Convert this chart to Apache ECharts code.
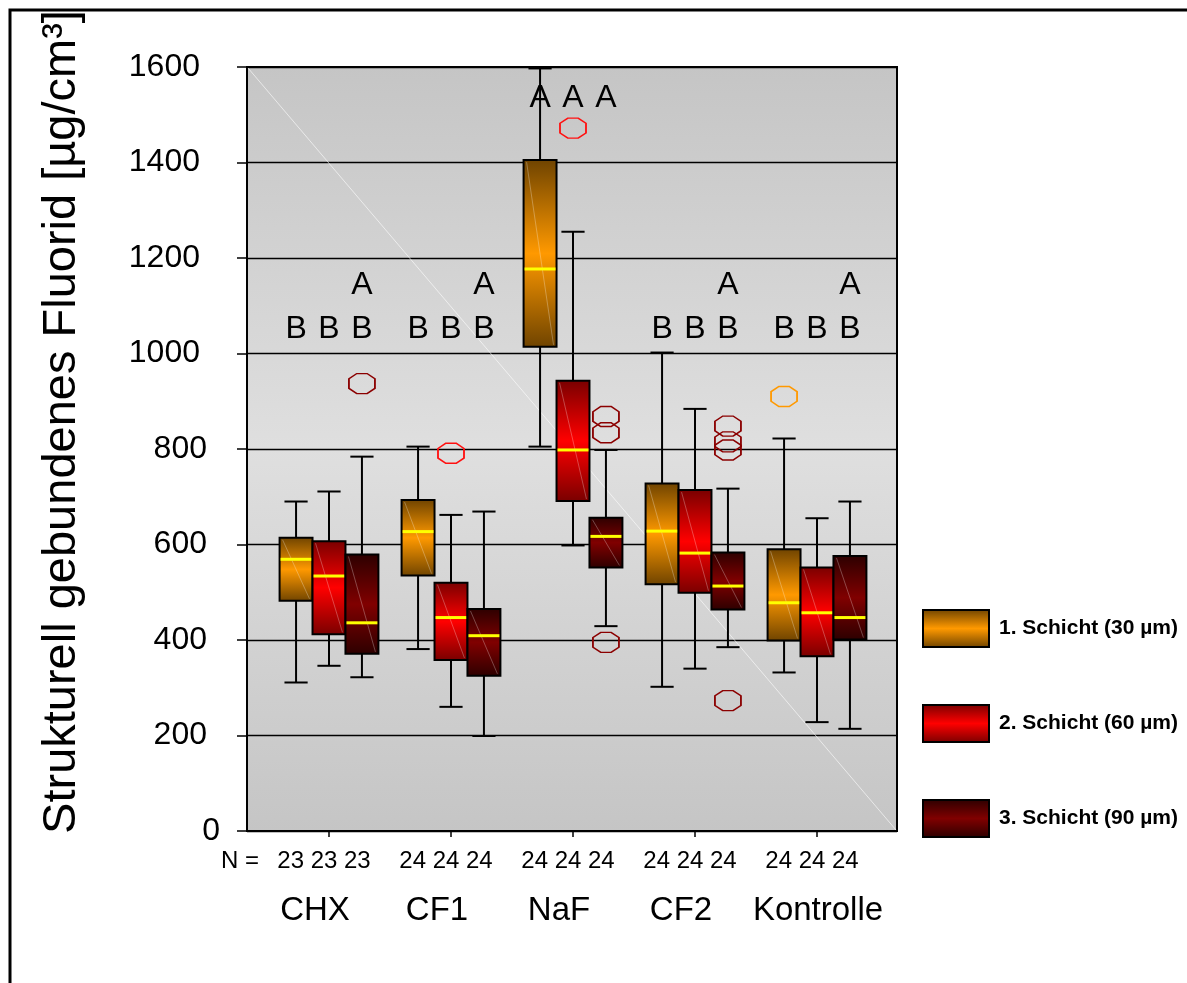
<!DOCTYPE html>
<html>
<head>
<meta charset="utf-8">
<title>Strukturell gebundenes Fluorid</title>
<script src="https://cdn.jsdelivr.net/npm/echarts@6/dist/echarts.min.js"></script>
<style>
  html, body { margin: 0; padding: 0; background: #fff; }
  #chart { width: 1187px; height: 983px; }
</style>
</head>
<body>
<div id="chart"></div>
<script>
// Groups and layers
const categories = ['CHX', 'CF1', 'NaF', 'CF2', 'Kontrolle'];
const layers = ['1. Schicht (30 µm)', '2. Schicht (60 µm)', '3. Schicht (90 µm)'];
const nCounts = [[23, 23, 23], [24, 24, 24], [24, 24, 24], [24, 24, 24], [24, 24, 24]];
const yTicks = [0, 200, 400, 600, 800, 1000, 1200, 1400, 1600];

// Box statistics per group: [min, Q1, median, Q3, max]
const layer1Stats = [
  [311, 482, 569, 614, 690],
  [381, 535, 627, 693, 805],
  [805, 1014, 1177, 1405, 1597],
  [302, 517, 628, 728, 1002],
  [332, 399, 478, 590, 822]
];
const layer2Stats = [
  [346, 412, 534, 607, 711],
  [260, 358, 447, 520, 662],
  [598, 691, 798, 943, 1255],
  [340, 499, 582, 714, 884],
  [228, 366, 457, 552, 655]
];
const layer3Stats = [
  [322, 371, 436, 579, 784],
  [199, 325, 409, 465, 669],
  [429, 552, 617, 656, 798],
  [385, 464, 513, 583, 717],
  [214, 401, 447, 576, 690]
];

// Outliers: [group index, value]
const layer1Outliers = [[4, 910]];
const layer2Outliers = [[1, 791], [2, 1472]];
const layer3Outliers = [[0, 937], [2, 868], [2, 834], [2, 395], [3, 848], [3, 815], [3, 798], [3, 273]];

// Significance letters (lower row, upper row)
const lettersLow = [['B', 'B', 'B'], ['B', 'B', 'B'], ['A', 'A', 'A'], ['B', 'B', 'B'], ['B', 'B', 'B']];
const lettersHigh = [['', '', 'A'], ['', '', 'A'], ['', '', ''], ['', '', 'A'], ['', '', 'A']];
const letterLevel = [1051, 1051, 1535, 1051, 1051];

// Layout
const FONT = '"Liberation Sans", Arial, Helvetica, sans-serif';
const layerOffsets = [-0.27, 0, 0.27];
const boxWidth = 0.27;
const capWidth = 0.19;

function vgrad(edge, mid) {
  return {
    type: 'linear', x: 0, y: 0, x2: 0, y2: 1,
    colorStops: [
      { offset: 0, color: edge },
      { offset: 0.5, color: mid },
      { offset: 1, color: edge }
    ]
  };
}
const fills = [
  vgrad('#6e4300', '#ff9900'),
  vgrad('#780000', '#ff0000'),
  vgrad('#2c0000', '#800000')
];
const outlierColors = ['#ff9900', '#ff1010', '#8b0000'];
const allStats = [layer1Stats, layer2Stats, layer3Stats];
const allOutliers = [layer1Outliers, layer2Outliers, layer3Outliers];

function boxRenderer(k) {
  return function (params, api) {
    const cat = api.value(0);
    const x = cat + layerOffsets[k];
    const unit = api.size([1, 0])[0];
    const hw = boxWidth * unit / 2;
    const ch = capWidth * unit / 2;
    const cx = api.coord([x, 0])[0];
    const yMin = api.coord([x, api.value(1)])[1];
    const yQ1 = api.coord([x, api.value(2)])[1];
    const yMed = api.coord([x, api.value(3)])[1];
    const yQ3 = api.coord([x, api.value(4)])[1];
    const yMax = api.coord([x, api.value(5)])[1];
    const line = { stroke: '#000', lineWidth: 2 };
    return {
      type: 'group',
      children: [
        { type: 'line', shape: { x1: cx, y1: yMax, x2: cx, y2: yQ3 }, style: line },
        { type: 'line', shape: { x1: cx, y1: yQ1, x2: cx, y2: yMin }, style: line },
        { type: 'line', shape: { x1: cx - ch, y1: yMax, x2: cx + ch, y2: yMax }, style: line },
        { type: 'line', shape: { x1: cx - ch, y1: yMin, x2: cx + ch, y2: yMin }, style: line },
        {
          type: 'rect',
          shape: { x: cx - hw, y: yQ3, width: hw * 2, height: yQ1 - yQ3 },
          style: { fill: fills[k], stroke: '#000', lineWidth: 2 }
        },
        {
          type: 'line',
          shape: { x1: cx - hw + 3, y1: yQ3 + 2, x2: cx + hw - 3, y2: yQ1 - 2 },
          style: { stroke: 'rgba(255,255,255,0.28)', lineWidth: 1 }
        },
        {
          type: 'line',
          shape: { x1: cx - hw + 1, y1: yMed, x2: cx + hw - 1, y2: yMed },
          style: { stroke: '#ffff00', lineWidth: 3 }
        }
      ]
    };
  };
}

function letterRenderer(params, api) {
  const cat = api.value(0);
  const k = api.value(1);
  const p = api.coord([cat + layerOffsets[k], letterLevel[cat]]);
  const font = '32px ' + FONT;
  const children = [{
    type: 'text',
    style: { text: lettersLow[cat][k], x: p[0], y: p[1], align: 'center', verticalAlign: 'middle', font: font, fill: '#000' }
  }];
  if (lettersHigh[cat][k]) {
    children.push({
      type: 'text',
      style: { text: lettersHigh[cat][k], x: p[0], y: p[1] - 44, align: 'center', verticalAlign: 'middle', font: font, fill: '#000' }
    });
  }
  return { type: 'group', children: children };
}

const series = [];

// faint diagonal streak across the plotting area
series.push({
  type: 'custom',
  name: 'streak',
  silent: true,
  z: 1,
  data: [[0, 0]],
  renderItem: function (params) {
    const c = params.coordSys;
    return {
      type: 'line',
      shape: { x1: c.x + 1, y1: c.y + 1, x2: c.x + c.width - 1, y2: c.y + c.height - 1 },
      style: { stroke: 'rgba(255,255,255,0.6)', lineWidth: 1 }
    };
  }
});

allStats.forEach(function (stats, k) {
  series.push({
    type: 'custom',
    name: layers[k],
    z: 3 + k,
    itemStyle: { color: fills[k], borderColor: '#000', borderWidth: 2 },
    data: stats.map(function (s, i) { return [i].concat(s); }),
    renderItem: boxRenderer(k)
  });
});

allOutliers.forEach(function (outs, k) {
  series.push({
    type: 'scatter',
    name: 'Ausreißer ' + (k + 1),
    z: 8,
    symbol: 'path://M3,0 L7,0 L10,2.6 L10,7.4 L7,10 L3,10 L0,7.4 L0,2.6 Z',
    symbolSize: [26, 20],
    itemStyle: { color: 'rgba(0,0,0,0)', borderColor: outlierColors[k], borderWidth: 1.6, opacity: 1 },
    emphasis: { disabled: true },
    data: outs.map(function (o) { return [o[0] + layerOffsets[k], o[1]]; })
  });
});

const letterData = [];
categories.forEach(function (c, i) { [0, 1, 2].forEach(function (k) { letterData.push([i, k]); }); });
series.push({
  type: 'custom',
  name: 'Buchstaben',
  z: 9,
  silent: true,
  data: letterData,
  renderItem: letterRenderer
});

const chart = echarts.init(document.getElementById('chart'), null, { renderer: 'canvas' });
chart.setOption({
  backgroundColor: '#ffffff',
  animation: false,
  grid: {
    left: 247, top: 67, width: 650, height: 764,
    show: true,
    backgroundColor: vgrad('#c5c5c5', '#dfdfdf'),
    borderColor: '#000', borderWidth: 2
  },
  legend: {
    data: layers,
    orient: 'vertical',
    left: 922, top: 609,
    padding: 0,
    itemWidth: 66, itemHeight: 37, itemGap: 56,
    icon: 'rect',
    selectedMode: false,
    itemStyle: { borderColor: '#000', borderWidth: 2 },
    textStyle: { fontFamily: FONT, fontSize: 21, fontWeight: 'bold', color: '#000', padding: [0, 0, 0, 5] }
  },
  xAxis: {
    type: 'value',
    min: -0.6721, max: 4.6557,
    splitLine: { show: false },
    axisLine: { show: true, onZero: false, lineStyle: { color: '#000', width: 2 } },
    axisTick: { show: true, customValues: [0, 1, 2, 3, 4], length: 6, lineStyle: { color: '#000', width: 1.5 } },
    axisLabel: {
      customValues: [0, 1, 2, 3, 4],
      margin: 15,
      color: '#000',
      formatter: function (v) {
        const i = Math.round(v);
        const style = i === 4 ? 'k' : 'c';
        return '{n|' + nCounts[i].join(' ') + '}\n{' + style + '|' + categories[i] + '}';
      },
      rich: {
        n: { fontFamily: FONT, fontSize: 24, lineHeight: 30, color: '#000', padding: [0, 10, 0, 0] },
        c: { fontFamily: FONT, fontSize: 33, lineHeight: 70, color: '#000', padding: [0, 28, 0, 0] },
        k: { fontFamily: FONT, fontSize: 33, lineHeight: 70, color: '#000', padding: [0, 0, 0, 2] }
      }
    }
  },
  yAxis: {
    type: 'value',
    min: yTicks[0], max: yTicks[yTicks.length - 1], interval: 200,
    axisLine: { show: true, onZero: false, lineStyle: { color: '#000', width: 2 } },
    axisTick: { show: true, inside: false, length: 10, lineStyle: { color: '#000', width: 1.5 } },
    splitLine: { show: true, lineStyle: { color: '#000', width: 1.4 } },
    axisLabel: {
      margin: 27,
      color: '#000',
      formatter: function (v) { const s = String(v); return '{w' + s.length + '|' + s + '}'; },
      rich: {
        w4: { fontFamily: FONT, fontSize: 32, color: '#000', padding: [0, 20, 0, 0] },
        w3: { fontFamily: FONT, fontSize: 32, color: '#000', padding: [0, 13, 0, 0] },
        w1: { fontFamily: FONT, fontSize: 32, color: '#000', padding: [0, 0, 0, 0] }
      }
    }
  },
  graphic: [
    {
      type: 'rect', silent: true, z: 100,
      shape: { x: 10, y: 10, width: 1400, height: 1400 },
      style: { fill: 'none', stroke: '#000', lineWidth: 3 }
    },
    {
      type: 'text', silent: true,
      x: 62, y: 422, rotation: Math.PI / 2,
      style: {
        text: 'Strukturell gebundenes Fluorid [µg/cm³]',
        font: '47px ' + FONT, fill: '#000', align: 'center', verticalAlign: 'middle'
      }
    },
    {
      type: 'text', silent: true,
      x: 221, y: 861,
      style: { text: 'N =', font: '24px ' + FONT, fill: '#000', align: 'left', verticalAlign: 'middle' }
    }
  ],
  series: series
});
</script>
</body>
</html>
